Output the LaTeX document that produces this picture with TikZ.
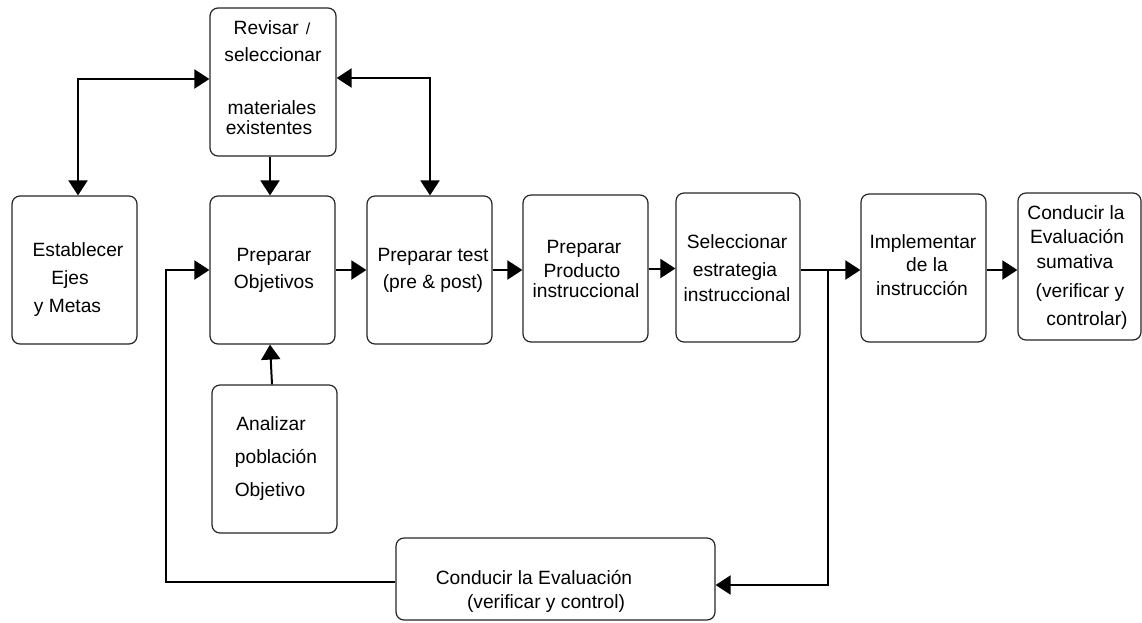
\documentclass[tikz,border=0pt]{standalone}
\usepackage{fontspec}
\setmainfont{Liberation Sans}
\usetikzlibrary{arrows.meta}

\tikzset{
  box/.style={draw=black!85, line width=1.2pt, rounded corners=8pt, inner sep=0pt, fill=white},
  txt/.style={anchor=base, inner sep=0pt, font=\fontsize{19.2}{22}\selectfont},
  tip/.style={Triangle[length=15pt,width=19pt]},
  link/.style={line width=2pt, -{Triangle[length=15pt,width=19pt]}},
  link2/.style={line width=2pt, {Triangle[length=15pt,width=19pt]}-{Triangle[length=15pt,width=19pt]}}
}

\begin{document}
\begin{tikzpicture}[x=1pt, y=-1pt]
\useasboundingbox (0,0) rectangle (1142,622);

% boxes
\node[box, minimum width=126pt, minimum height=148pt] (rev)  at (273,82)    {};
\node[box, minimum width=125pt, minimum height=148pt] (est)  at (74.5,270)  {};
\node[box, minimum width=125pt, minimum height=148pt] (obj)  at (272.5,270) {};
\node[box, minimum width=125pt, minimum height=148pt] (test) at (429.5,270) {};
\node[box, minimum width=125pt, minimum height=147pt] (prod) at (585.5,268.5) {};
\node[box, minimum width=124pt, minimum height=149pt] (sel)  at (738,267.5) {};
\node[box, minimum width=125pt, minimum height=148pt] (impl) at (923.5,268) {};
\node[box, minimum width=123pt, minimum height=147pt] (sum)  at (1079.5,266.5) {};
\node[box, minimum width=125pt, minimum height=148pt] (anal) at (274.5,459) {};
\node[box, minimum width=319pt, minimum height=82pt]  (eval) at (555.5,579) {};

% box texts
\node[txt] (rev1) at (272,34)  {Revisar\hspace{7pt}{\fontsize{16}{18}\selectfont /}};
\node[txt] (rev2) at (273,61)  {seleccionar};
\node[txt] (rev3) at (272,114) {materiales};
\node[txt] (rev4) at (269,134) {existentes};

\node[txt] (est1) at (78,256)   {Establecer};
\node[txt] (est2) at (70,284)   {Ejes};
\node[txt] (est3) at (67.5,312) {y Metas};

\node[txt] (obj1) at (274,261) {Preparar};
\node[txt] (obj2) at (274,288) {Objetivos};

\node[txt] (test1) at (433,261) {Preparar test};
\node[txt] (test2) at (433,288) {(pre \& post)};

\node[txt] (prod1) at (584,253) {Preparar};
\node[txt] (prod2) at (582,277) {Producto};
\node[txt] (prod3) at (586,297) {instruccional};

\node[txt] (sel1) at (737,248) {Seleccionar};
\node[txt] (sel2) at (735,276) {estrategia};
\node[txt] (sel3) at (737,301) {instruccional};

\node[txt] (impl1) at (923,248) {Implementar};
\node[txt] (impl2) at (927,271) {de la};
\node[txt] (impl3) at (922,295) {instrucción};

\node[txt] (sum1) at (1076,219) {Conducir la};
\node[txt] (sum2) at (1077,243) {Evaluación};
\node[txt] (sum3) at (1075,268) {sumativa};
\node[txt] (sum4) at (1080,297) {(verificar y};
\node[txt] (sum5) at (1087,325) {controlar)};

\node[txt] (anal1) at (271,430) {Analizar};
\node[txt] (anal2) at (276,463) {población};
\node[txt] (anal3) at (270,496) {Objetivo};

\node[txt] (eval1) at (534,584) {Conducir la Evaluación};
\node[txt] (eval2) at (546,608) {(verificar y control)};

% bends of the connectors
\coordinate (k1) at (78,79);
\coordinate (k2) at (430,78);
\coordinate (k3) at (828,270);
\coordinate (k4) at (828,585);
\coordinate (k5) at (166,582);
\coordinate (k6) at (166,270);

% connectors
\draw[link]  ([xshift=-3pt]rev.south) -- ([xshift=-2.5pt]obj.north);
\draw[link2] (k1 -| rev.west) -- (k1) -- (k1 |- est.north);
\draw[link2] (k2 -| rev.east) -- (k2) -- (k2 |- test.north);
\draw[link]  (obj.east) -- (test.west);
\draw[link]  (test.east) -- (test.east -| prod.west);
\draw[link]  (prod.east) -- (prod.east -| sel.west);
\draw[link]  (sel.east |- k3) -- (k3 -| impl.west);
\draw[link]  (k3) -- (k4) -- (k4 -| eval.east);
\draw[link]  (impl.east |- k3) -- (k3 -| sum.west);
\draw[link]  ([xshift=-2.5pt]anal.north) -- ([xshift=-2.5pt]obj.south);
\draw[link]  (k5 -| eval.west) -- (k5) -- (k6) -- (k6 -| obj.west);

\end{tikzpicture}
\end{document}
